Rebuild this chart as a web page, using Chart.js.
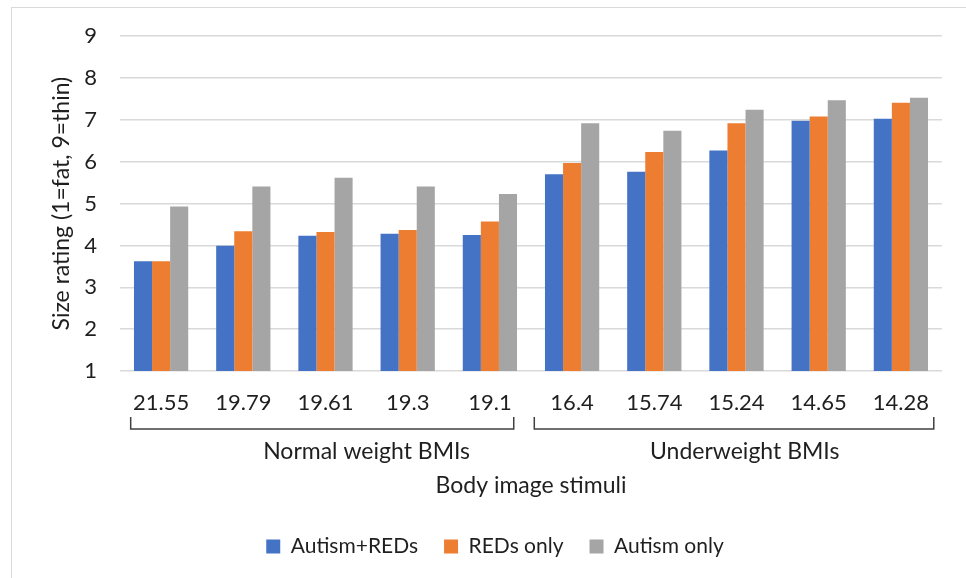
<!DOCTYPE html>
<html>
<head>
<meta charset="utf-8">
<script src="https://cdn.jsdelivr.net/npm/chart.js@4"></script>
<style>
  html, body { margin: 0; padding: 0; background: #fff; }
  #wrap { position: relative; width: 966px; height: 578px; }
  #frame { position: absolute; left: 11px; top: 7px; right: 0; bottom: 0;
           border-left: 1px solid #d9d9d9; border-top: 1px solid #d9d9d9; }
  canvas { position: absolute; left: 0; top: 0; }
</style>
</head>
<body>
<div id="wrap">
  <div id="frame"></div>
  <canvas id="bmiChart" width="966" height="578"></canvas>
</div>
<script>
// Chart data
const bmiLabels = ['21.55', '19.79', '19.61', '19.3', '19.1', '16.4', '15.74', '15.24', '14.65', '14.28'];
const autismReds = [3.62, 3.99, 4.23, 4.28, 4.25, 5.70, 5.76, 6.27, 6.98, 7.03];
const redsOnly = [3.62, 4.34, 4.32, 4.37, 4.57, 5.97, 6.23, 6.92, 7.08, 7.41];
const autismOnly = [4.93, 5.41, 5.62, 5.41, 5.23, 6.92, 6.74, 7.24, 7.47, 7.53];
const groupNames = ['Normal weight BMIs', 'Underweight BMIs'];
const groupRanges = [[0, 4], [5, 9]];

const fontFamily = 'Lato, "Open Sans", sans-serif';
const textColor = '#1f1f1f';

// Brackets under the category labels, placed from the x scale
const groupBrackets = {
    id: 'groupBrackets',
    afterLayout(chart) {
        // legend sits a little right of centre in the original
        chart.legend.left += 19;
        chart.legend.right += 19;
    },
    afterDraw(chart) {
        const x = chart.scales.x;
        const ctx = chart.ctx;
        const step = x.getPixelForValue(1) - x.getPixelForValue(0);
        const base = chart.chartArea.bottom;
        const pads = [[-0.37, 0.29], [-0.46, 0.40]];
        const textAt = [2.5, 7.1]; // label anchors, in category units
        ctx.save();
        ctx.strokeStyle = '#404040';
        ctx.lineWidth = 1.5;
        ctx.fillStyle = textColor;
        ctx.font = '23px ' + fontFamily;
        ctx.textAlign = 'center';
        ctx.textBaseline = 'middle';
        groupRanges.forEach((r, i) => {
            const x0 = x.getPixelForValue(r[0]) + pads[i][0] * step;
            const x1 = x.getPixelForValue(r[1]) + pads[i][1] * step;
            ctx.beginPath();
            ctx.moveTo(x0, base + 46);
            ctx.lineTo(x0, base + 58);
            ctx.lineTo(x1, base + 58);
            ctx.lineTo(x1, base + 46);
            ctx.stroke();
            const tx = x.getPixelForValue(0) + textAt[i] * step;
            ctx.fillText(groupNames[i], tx, base + 81);
        });
        ctx.restore();
    }
};

document.addEventListener('DOMContentLoaded', () => {
    const ctx = document.getElementById('bmiChart');
    new Chart(ctx, {
        type: 'bar',
        data: {
            labels: bmiLabels,
            datasets: [
                { label: 'Autism+REDs', data: autismReds, backgroundColor: '#4472c4' },
                { label: 'REDs only', data: redsOnly, backgroundColor: '#ed7d31' },
                { label: 'Autism only', data: autismOnly, backgroundColor: '#a5a5a5' }
            ]
        },
        options: {
            responsive: false,
            animation: false,
            categoryPercentage: 0.66,
            barPercentage: 1.0,
            layout: { padding: { left: 10, right: 24, top: 36, bottom: 11 } },
            plugins: {
                tooltip: { enabled: false },
                legend: {
                    position: 'bottom',
                    labels: {
                        boxWidth: 14,
                        boxHeight: 14,
                        padding: 26,
                        color: textColor,
                        font: { family: fontFamily, size: 21 }
                    }
                }
            },
            scales: {
                x: {
                    grid: { display: false, drawTicks: false },
                    border: { display: false },
                    ticks: {
                        padding: 18.5,
                        color: textColor,
                        maxRotation: 0,
                        font: { family: fontFamily, size: 22 }
                    },
                    title: {
                        display: true,
                        text: 'Body image stimuli',
                        color: textColor,
                        padding: { top: 37, bottom: 11 },
                        font: { family: fontFamily, size: 23 }
                    }
                },
                y: {
                    min: 1,
                    max: 9,
                    afterFit(scale) { scale.width = 110; },
                    grid: { color: '#d9d9d9', lineWidth: 1.5, drawTicks: false },
                    border: { display: false },
                    ticks: {
                        stepSize: 1,
                        padding: 23,
                        color: textColor,
                        font: { family: fontFamily, size: 22 }
                    },
                    title: {
                        display: true,
                        text: 'Size rating (1=fat, 9=thin)',
                        color: textColor,
                        padding: { top: 38, bottom: 0 },
                        font: { family: fontFamily, size: 23 }
                    }
                }
            }
        },
        plugins: [groupBrackets]
    });
});
</script>
</body>
</html>
